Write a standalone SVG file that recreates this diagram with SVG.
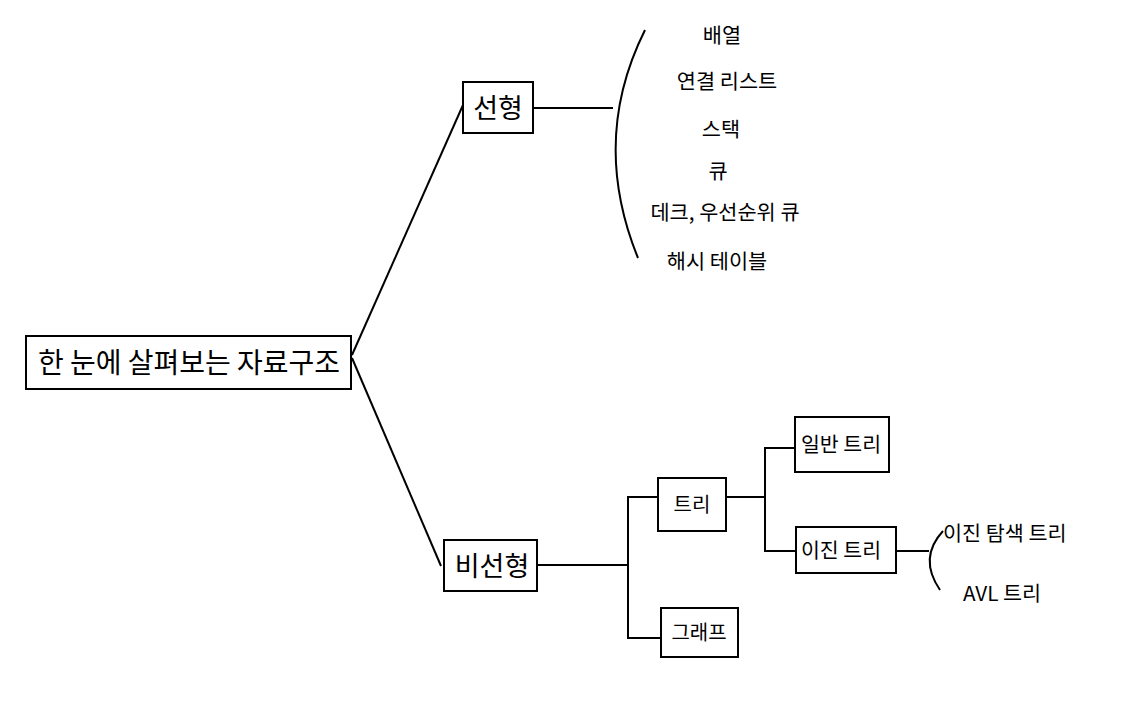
<svg xmlns="http://www.w3.org/2000/svg" width="1136" height="704" viewBox="0 0 1136 704">
<style>
.box{fill:#fff;stroke:#000;stroke-width:2}
.ln{fill:none;stroke:#000;stroke-width:2}
text{font-family:"Noto Sans CJK KR","Noto Sans",sans-serif;fill:#000}
.c{text-anchor:middle}
.it{font-size:20.8px}
</style>
<rect width="1136" height="704" fill="#fff"/>
<g id="connectors">
<path class="ln" d="M352,355 L463,105"/>
<path class="ln" d="M352,358 L441,566"/>
<path class="ln" d="M533,108 L613,108"/>
<path class="ln" d="M645,30 Q590,140 638,258"/>
<path class="ln" d="M537,565 L628,565"/>
<path class="ln" d="M658,497 L628,497 L628,638 L661,638"/>
<path class="ln" d="M726,497 L765,497"/>
<path class="ln" d="M795,448 L765,448 L765,551 L796,551"/>
<path class="ln" d="M896,551 L929,551"/>
<path class="ln" d="M943,531 Q918,558 940,590"/>
</g>
<g id="root"><rect class="box" x="26" y="336" width="325" height="53"/><text class="c" x="189" y="373" font-size="28">한 눈에 살펴보는 자료구조</text></g>
<g id="linear"><rect class="box" x="463" y="82" width="70" height="51"/><text class="c" x="498" y="118" font-size="27">선형</text></g>
<g id="nonlinear"><rect class="box" x="444" y="540" width="93" height="51"/><text class="c" x="492" y="576" font-size="27">비선형</text></g>
<g id="linear-items">
<text class="c it" x="722" y="43">배열</text>
<text class="c it" x="727" y="89">연결 리스트</text>
<text class="c it" x="721" y="137">스택</text>
<text class="c it" x="718" y="179">큐</text>
<text class="c it" x="725" y="220">데크, 우선순위 큐</text>
<text class="c it" x="717" y="269">해시 테이블</text>
</g>
<g id="tree"><rect class="box" x="658" y="478" width="68" height="53"/><text class="c" x="692" y="512" font-size="20">트리</text></g>
<g id="graph"><rect class="box" x="661" y="608" width="77" height="49"/><text class="c" x="699" y="640" font-size="20">그래프</text></g>
<g id="general-tree"><rect class="box" x="795" y="417" width="94" height="55"/><text class="c" x="841" y="452" font-size="20.5">일반 트리</text></g>
<g id="binary-tree"><rect class="box" x="796" y="527" width="100" height="46"/><text class="c" x="841" y="558" font-size="20.5">이진 트리</text></g>
<g id="bst"><text x="943" y="541" font-size="20.7">이진 탐색 트리</text></g>
<g id="avl"><text x="963" y="601" font-size="20.7">AVL 트리</text></g>
</svg>
